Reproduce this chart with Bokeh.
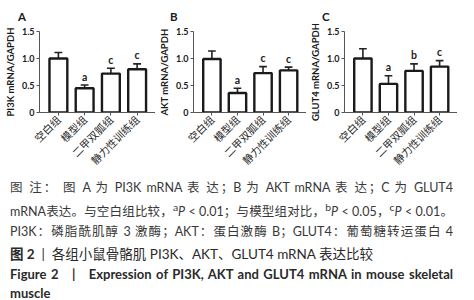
from math import pi
from bokeh.plotting import figure
from bokeh.models import FixedTicker, Div, Range1d, ColumnDataSource
from bokeh.layouts import row, column
from bokeh.core.properties import value
from bokeh.embed import file_html
from bokeh.resources import INLINE

# ---- data ----
groups = ["空白组", "模型组", "二甲双胍组", "静力性训练组"]
pi3k_mean = [1.00, 0.45, 0.72, 0.80]
pi3k_sd = [0.11, 0.06, 0.10, 0.10]
pi3k_sig = ["", "a", "c", "c"]
akt_mean = [0.99, 0.36, 0.73, 0.78]
akt_sd = [0.15, 0.09, 0.12, 0.06]
akt_sig = ["", "a", "c", "c"]
glut4_mean = [1.00, 0.53, 0.77, 0.85]
glut4_sd = [0.18, 0.15, 0.13, 0.11]
glut4_sig = ["", "a", "b", "c"]
y_ticks = [0, 0.5, 1.0, 1.5]
y_tick_labels = ["0", "0.5", "1.0", "1.5"]
panel_letters = ["A", "B", "C"]
y_labels = ["PI3K mRNA/GAPDH", "AKT mRNA/GAPDH", "GLUT4 mRNA/GAPDH"]

caption_lines = [
    "图 注： 图 A 为 PI3K mRNA 表 达；B 为 AKT mRNA 表 达；C 为 GLUT4",
    "mRNA表达。与空白组比较，<sup>a</sup><i>P</i> &lt; 0.01；与模型组对比，<sup>b</sup><i>P</i> &lt; 0.05，<sup>c</sup><i>P</i> &lt; 0.01。",
    "PI3K：磷脂酰肌醇 3 激酶；AKT：蛋白激酶 B；GLUT4：葡萄糖转运蛋白 4",
]
title_cn = "<b>图 2</b> &nbsp;|&nbsp; 各组小鼠骨骼肌 PI3K、AKT、GLUT4 mRNA 表达比较"
title_en_1 = "Figure 2 &nbsp; | &nbsp; Expression of PI3K, AKT and GLUT4 mRNA in mouse skeletal"
title_en_2 = "muscle"

XS = [1, 2, 3, 4]
LATIN = "Lato"
CJK = "Noto Sans CJK SC"


def make_panel(ylabel, means, sds, sig, width, left):
    p = figure(width=width, height=151, x_range=Range1d(0.28, 4.7), y_range=Range1d(0, 1.5),
               output_backend="svg", toolbar_location=None,
               min_border_left=left, min_border_right=0, min_border_top=7, min_border_bottom=58)
    p.outline_line_color = None
    p.xgrid.visible = False
    p.ygrid.visible = False
    p.background_fill_color = "white"
    p.border_fill_color = "white"

    tops = [m + s for m, s in zip(means, sds)]
    src = ColumnDataSource(dict(
        x=XS, top=means, err=tops,
        cl=[x - 0.15 for x in XS], cr=[x + 0.15 for x in XS],
        ly=[t + 0.045 for t in tops], sig=sig,
    ))
    p.segment(x0="x", y0="top", x1="x", y1="err", source=src, line_color="#222222", line_width=1.6)
    p.segment(x0="cl", y0="err", x1="cr", y1="err", source=src, line_color="#222222", line_width=1.6)
    p.vbar(x="x", top="top", bottom=0, width=0.68, source=src, fill_color="white",
           line_color="#1a1a1a", line_width=2.4)
    p.text(x="x", y="ly", text="sig", source=src, text_align="center", text_baseline="bottom",
           text_font=value(LATIN), text_font_size="10.5px", text_font_style="bold", text_color="#222222")

    # axes
    p.xaxis.ticker = FixedTicker(ticks=XS)
    p.xaxis.major_label_overrides = {x: g for x, g in zip(XS, groups)}
    p.xaxis.major_label_orientation = pi / 4
    p.xaxis.major_label_text_font = CJK
    p.xaxis.major_label_text_font_size = "10.5px"
    p.xaxis.major_label_text_color = "#2a2a2a"
    p.xaxis.major_label_standoff = 2
    p.xaxis.minor_tick_line_color = None
    p.xaxis.major_tick_in = 0
    p.xaxis.major_tick_out = 3

    p.yaxis.ticker = FixedTicker(ticks=y_ticks)
    p.yaxis.major_label_overrides = {t: l for t, l in zip(y_ticks, y_tick_labels)}
    p.yaxis.major_label_text_font = LATIN
    p.yaxis.major_label_text_font_size = "9px"
    p.yaxis.major_label_text_font_style = "bold"
    p.yaxis.major_label_text_color = "#1a1a1a"
    p.yaxis.major_label_standoff = 2
    p.yaxis.minor_tick_line_color = None
    p.yaxis.major_tick_in = 0
    p.yaxis.major_tick_out = 3
    p.yaxis.axis_label = ylabel
    p.yaxis.axis_label_text_font = LATIN
    p.yaxis.axis_label_text_font_size = "9.5px"
    p.yaxis.axis_label_text_font_style = "bold"
    p.yaxis.axis_label_text_color = "#1a1a1a"
    p.yaxis.axis_label_standoff = 3
    for ax in (p.xaxis, p.yaxis):
        ax.axis_line_color = "#555555"
        ax.major_tick_line_color = "#555555"
    return p


pA = make_panel(y_labels[0], pi3k_mean, pi3k_sd, pi3k_sig, 155, 39)
pB = make_panel(y_labels[1], akt_mean, akt_sd, akt_sig, 151, 35)
pC = make_panel(y_labels[2], glut4_mean, glut4_sd, glut4_sig, 151, 35)

# panel letters row
letter_left = [18, 170, 322]
letters_html = ("<div style=\"position:relative; width:474px; height:24px; font-family:Lato,sans-serif; "
                "font-weight:bold; font-size:11.5px; line-height:14px; color:#1a1a1a;\">")
for lt, lx in zip(panel_letters, letter_left):
    letters_html += f"<span style=\"position:absolute; left:{lx}px; top:10px;\">{lt}</span>"
letters_html += "</div>"
letters_div = Div(text=letters_html, width=474, height=24, margin=(0, 0, 0, 0))

line_style = "text-align:justify; text-align-last:justify; white-space:nowrap;"
html = "<div style=\"font-family:Lato,'Noto Sans CJK SC',sans-serif; color:#383838; width:453px; padding:3px 0 0 10px;\">"
for ln in caption_lines:
    html += f"<div style=\"font-size:12.5px; line-height:19.7px; {line_style}\">{ln}</div>"
html += "<div style=\"height:4px\"></div>"
html += f"<div style=\"font-size:13.5px; line-height:19.3px; white-space:nowrap; color:#2a2a2a;\">{title_cn}</div>"
html += f"<div style=\"font-size:13px; line-height:19.3px; font-weight:bold; {line_style} color:#2a2a2a;\">{title_en_1}</div>"
html += f"<div style=\"font-size:13px; line-height:19.3px; font-weight:bold; color:#2a2a2a;\">{title_en_2}</div>"
html += "</div>"

caption = Div(text=html, width=474, height=125, margin=(0, 0, 0, 0))

layout = column(letters_div, row(pA, pB, pC, spacing=0), caption, spacing=0)

open("out.html", "w").write(file_html(layout, INLINE))
